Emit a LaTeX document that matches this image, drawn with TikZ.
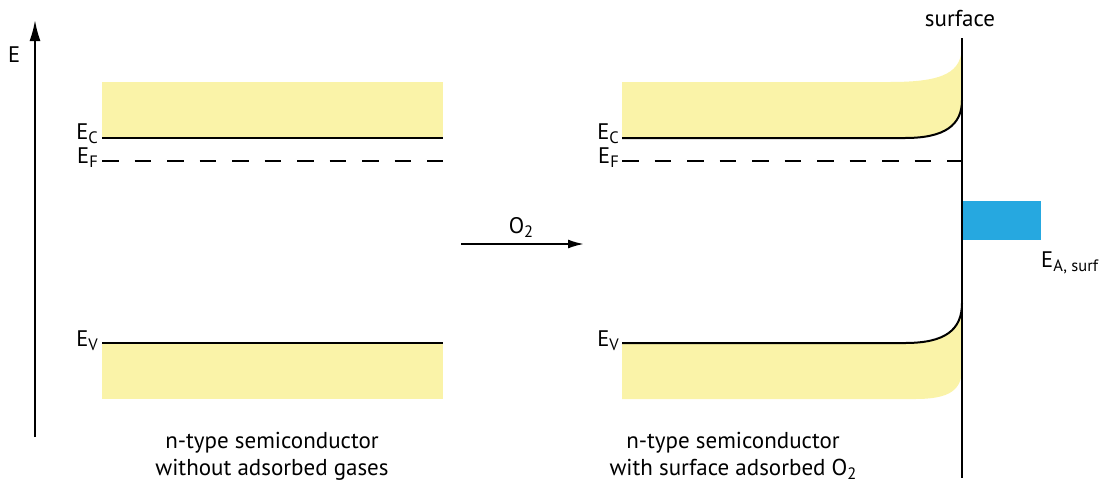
\documentclass[tikz,border=0pt]{standalone}
\usepackage{fontspec}
\setmainfont{PT Sans}
\usetikzlibrary{arrows.meta}
\definecolor{bandyellow}{RGB}{250,243,168}
\definecolor{surfblue}{RGB}{38,168,224}
\newcommand{\lvl}[2]{#1\raisebox{-0.4ex}{\fontsize{16.5}{16.5}\selectfont #2}}
\tikzset{
  lbl/.style={font=\fontsize{22.5}{24}\selectfont, inner sep=0pt},
  captext/.style={font=\fontsize{23}{27}\selectfont, align=center, inner sep=0pt},
  level/.style={line width=2pt},
  flevel/.style={line width=2pt, dash pattern=on 16.5pt off 16pt},
  band/.style={fill=bandyellow, draw=none},
  bigarr/.style={line width=2pt, -{Latex[length=21pt,width=11pt]}},
  arr/.style={line width=2pt, -{Latex[length=16pt,width=9pt]}},
}
\begin{document}
\begin{tikzpicture}[x=1pt,y=-1pt]
\useasboundingbox (0,0) rectangle (1099,493);
% energy axis
\coordinate (axb) at (35,437);
\coordinate (axt) at (35,20);
\draw[bigarr] (axb) -- (axt);
\node[lbl, anchor=base west] (elab) at (8,62) {E};
% left diagram
\fill[band] (102,82) rectangle (443,138);
\fill[band] (102,343) rectangle (443,399);
\draw[level] (102,138) -- (443,138);
\draw[flevel] (102,161) -- (443,161);
\draw[level] (102,343) -- (443,343);
\node[lbl, anchor=base east] (ecl) at (98,139) {\lvl{E}{C}};
\node[lbl, anchor=base east] (efl) at (98,163) {\lvl{E}{F}};
\node[lbl, anchor=base east] (evl) at (98,346) {\lvl{E}{V}};
\node[captext] (capl) at (272,456) {n-type semiconductor\\without adsorbed gases};
% arrow
\coordinate (aa) at (461,244);
\coordinate (ab) at (584,244);
\draw[arr] (aa) -- (ab);
\node[lbl, anchor=base] (o2) at (521,233) {\lvl{O}{2}};
% right diagram
\fill[band] (622,82) -- (890,82) .. controls (945,82) and (962,72) .. (962,45)
  -- (962,100) .. controls (962,125) and (945,138) .. (905,138) -- (622,138) -- cycle;
\fill[band] (622,343) -- (905,343) .. controls (945,343) and (962,330) .. (962,303)
  -- (962,368) .. controls (962,390) and (950,399) .. (915,399) -- (622,399) -- cycle;
\fill[surfblue] (963,201) rectangle (1041,240);
\draw[level] (622,138) -- (905,138) .. controls (945,138) and (962,125) .. (962,100);
\draw[flevel] (622,161) -- (962,161);
\draw[level] (622,343) -- (905,343) .. controls (945,343) and (962,330) .. (962,303);
\coordinate (st) at (962,38);
\coordinate (sb) at (962,478);
\draw[line width=2pt] (st) -- (sb);
\node[captext, anchor=base] (surf) at (960,26) {surface};
\node[lbl, anchor=base east] (ecr) at (619,139) {\lvl{E}{C}};
\node[lbl, anchor=base east] (efr) at (619,163) {\lvl{E}{F}};
\node[lbl, anchor=base east] (evr) at (619,346) {\lvl{E}{V}};
\node[lbl, anchor=base west] (ea) at (1041,267) {\lvl{E}{A, surf}};
\node[captext] (capr) at (733,456) {n-type semiconductor\\with surface adsorbed \lvl{O}{2}};
\end{tikzpicture}
\end{document}
